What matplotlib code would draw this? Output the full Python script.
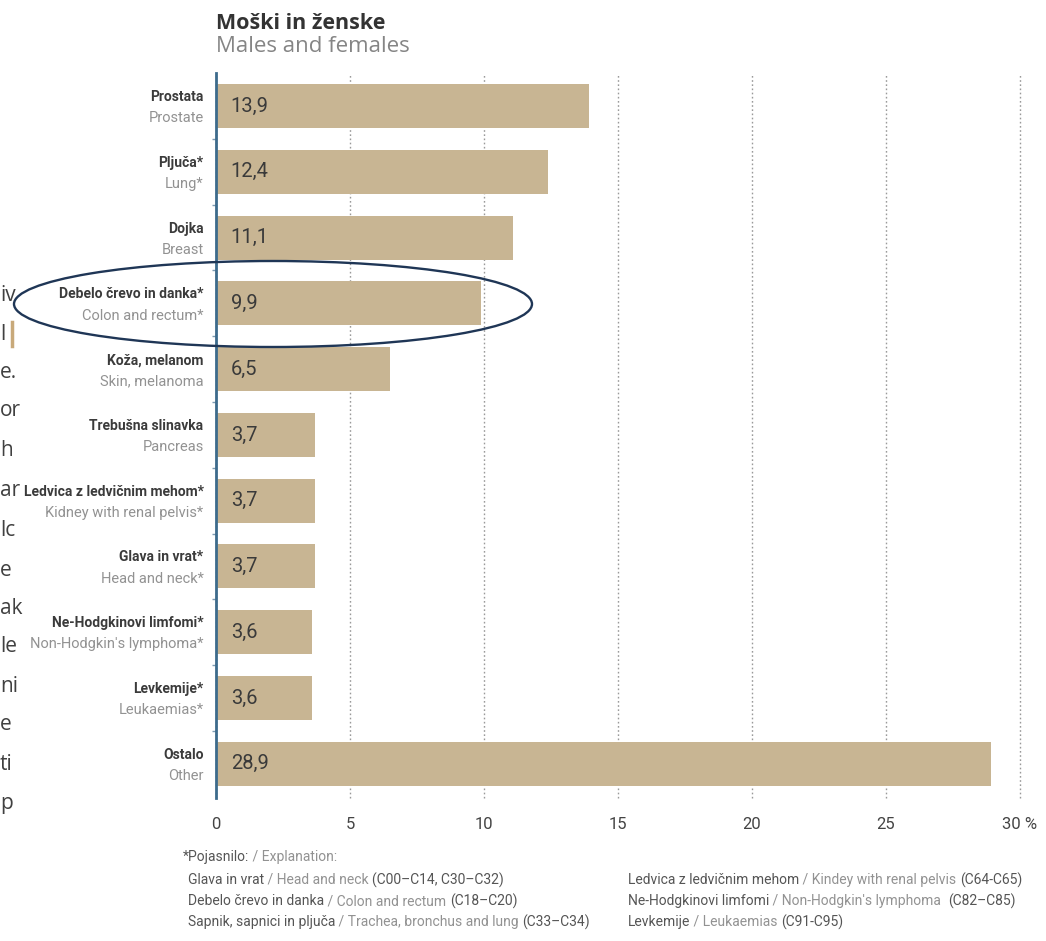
import numpy as np
import matplotlib.pyplot as plt
from matplotlib.patches import Ellipse
from matplotlib.lines import Line2D

W, H = 1046, 941
plt.rcParams['font.family'] = ['Roboto', 'DejaVu Sans']

# Data
labels_sl = ['Prostata', 'Pljuča*', 'Dojka', 'Debelo črevo in danka*', 'Koža, melanom',
             'Trebušna slinavka', 'Ledvica z ledvičnim mehom*', 'Glava in vrat*',
             'Ne-Hodgkinovi limfomi*', 'Levkemije*', 'Ostalo']
labels_en = ['Prostate', 'Lung*', 'Breast', 'Colon and rectum*', 'Skin, melanoma',
             'Pancreas', 'Kidney with renal pelvis*', 'Head and neck*',
             "Non-Hodgkin's lymphoma*", 'Leukaemias*', 'Other']
shares = [13.9, 12.4, 11.1, 9.9, 6.5, 3.7, 3.7, 3.7, 3.6, 3.6, 28.9]
xticks = [0, 5, 10, 15, 20, 25, 30]
xtick_labels = ['0', '5', '10', '15', '20', '25', '30 %']

# footnote lines: (dark part, light part, code)
notes_left = [('Glava in vrat', ' / Head and neck ', '(C00–C14, C30–C32)'),
              ('Debelo črevo in danka', ' / Colon and rectum ', '(C18–C20)'),
              ('Sapnik, sapnici in pljuča', ' / Trachea, bronchus and lung ', '(C33–C34)')]
notes_right = [('Ledvica z ledvičnim mehom', ' / Kindey with renal pelvis ', '(C64-C65)'),
               ('Ne-Hodgkinovi limfomi', " / Non-Hodgkin's lymphoma  ", '(C82–C85)'),
               ('Levkemije', ' / Leukaemias ', '(C91-C95)')]

# bits of the neighbouring slide text cut off at the left edge
side_text = ['iv', 'l', 'e.', 'or', 'h', 'ar', 'lc', 'e', 'ak', 'le', 'ni', 'e', 'ti', 'p']
side_y = [296, 334, 372, 411, 450, 490, 530, 570, 609, 647, 686, 725, 765, 804]

bar_col = '#c8b593'
dark = '#3b3b3b'
light = '#929292'

fig = plt.figure(figsize=(W / 100, H / 100), dpi=100)
ax = fig.add_axes([216 / W, 1 - 798 / H, (1020 - 216) / W, (798 - 73) / H])

n = len(shares)
ypos = np.arange(n)
ax.barh(ypos, shares, height=0.67, color=bar_col, zorder=2)
ax.set_xlim(0, 30)
ax.set_ylim(10.52, -0.502)

ax.set_xticks(xticks)
ax.set_xticklabels(xtick_labels, fontsize=12, color='#444444')
ax.tick_params(axis='x', length=0, pad=14)
ax.set_yticks([])
ax.set_yticks(np.arange(0.5, n - 1, 1), minor=True)
ax.tick_params(axis='y', which='minor', length=3, width=1, color='#7d9bb2', direction='out')
ax.grid(axis='x', linestyle=(0, (1.2, 1.8)), color='#9a9a9a', lw=1, zorder=0)
for gl in ax.get_xgridlines():
    gl.set_clip_on(False)
ax.set_axisbelow(True)
for s in ['top', 'right', 'bottom']:
    ax.spines[s].set_visible(False)
ax.spines['left'].set_color('#3d6b8c')
ax.spines['left'].set_linewidth(2)
ax.spines['left'].set_zorder(3)

for i, v in enumerate(shares):
    ax.text(0.55, i, f'{v:.1f}'.replace('.', ','), va='center', ha='left',
            fontsize=14.5, color='#3a3a3a', zorder=4)
    ax.annotate(labels_sl[i], xy=(0, i), xycoords=('axes fraction', 'data'),
                xytext=(-9, 6.5), textcoords='offset points', ha='right', va='center',
                fontsize=10, fontweight='bold', color=dark)
    ax.annotate(labels_en[i], xy=(0, i), xycoords=('axes fraction', 'data'),
                xytext=(-9, -8.8), textcoords='offset points', ha='right', va='center',
                fontsize=10.5, color=light)

# title block
fig.text(216 / W, 1 - 29 / H, 'Moški in ženske', va='baseline', ha='left',
         fontsize=15.5, fontweight='bold', family='Open Sans', color='#333333')
fig.text(216 / W, 1 - 52 / H, 'Males and females', va='baseline', ha='left',
         fontsize=16, family='Open Sans', color='#858585')

# highlight ring round the colorectal row
fig.add_artist(Ellipse((273 / W, 1 - 304 / H), 518 / W, 86 / H, transform=fig.transFigure,
                       fill=False, ec='#1f3656', lw=1.7, zorder=5))

# footnote, written piece by piece so colours can change within a line
renderer = fig.canvas.get_renderer()


def chain(x_px, y_px, parts):
    x = x_px
    for s, c in parts:
        t = fig.text(x / W, 1 - y_px / H, s, ha='left', va='center', fontsize=10, color=c)
        x = t.get_window_extent(renderer).x1


chain(183, 857, [('*Pojasnilo:', '#555555'), (' / Explanation:', light)])
for k, (a, b, c) in enumerate(notes_left):
    chain(188, 880 + 21 * k, [(a, '#555555'), (b, light), (c, '#555555')])
for k, (a, b, c) in enumerate(notes_right):
    chain(628, 880 + 21 * k, [(a, '#555555'), (b, light), (c, '#555555')])

# clipped strip at the far left
ax_side = fig.add_axes([0, 0, 24 / W, 1])
ax_side.axis('off')
for s, y in zip(side_text, side_y):
    t = ax_side.text(0.0, 1 - y / H, s, transform=ax_side.transAxes, ha='left', va='center',
                     fontsize=15, family='Open Sans', color='#404040')
    t.set_clip_box(ax_side.bbox)
    t.set_clip_on(True)
fig.add_artist(Line2D([12 / W, 12 / W], [1 - 322 / H, 1 - 346 / H], color='#c8a97a', lw=2.5))

fig.savefig('out.png', dpi=100)
